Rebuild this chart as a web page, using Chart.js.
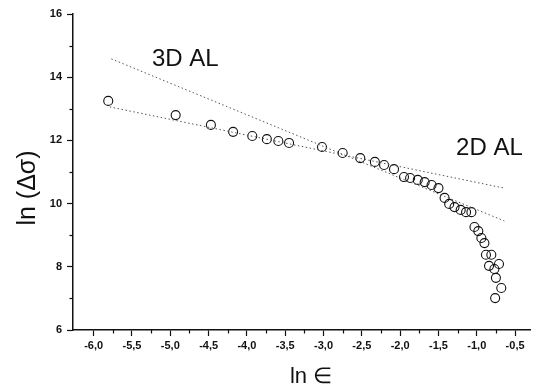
<!DOCTYPE html>
<html>
<head>
<meta charset="utf-8">
<script src="https://cdn.jsdelivr.net/npm/chart.js@4/dist/chart.umd.min.js"></script>
<style>
  html, body { margin: 0; padding: 0; background: #fff; }
  canvas { display: block; }
</style>
</head>
<body>
<canvas id="c" width="536" height="389"></canvas>
<script>
// ---- data ----
const lnEps = [-5.81,-4.93,-4.47,-4.18,-3.93,-3.74,-3.59,-3.45,-3.02,-2.75,-2.52,-2.33,-2.21,-2.08,-1.95,-1.87,-1.77,-1.68,-1.59,-1.50,-1.42,-1.36,-1.29,-1.21,-1.14,-1.07,-1.03,-0.98,-0.94,-0.90,-0.88,-0.81,-0.84,-0.77,-0.71,-0.75,-0.68,-0.76];
const lnDSigma = [13.25,12.80,12.49,12.27,12.14,12.04,11.98,11.92,11.79,11.60,11.44,11.32,11.22,11.09,10.84,10.81,10.75,10.68,10.59,10.49,10.18,9.99,9.89,9.80,9.73,9.73,9.26,9.13,8.91,8.75,8.38,8.38,8.03,7.93,8.09,7.65,7.33,7.01];
const fit3DX = [-5.77, -0.64];
const fit3DY = [14.58, 9.45];
const fit2DX = [-5.79, -0.64];
const fit2DY = [13.06, 10.49];
const xMajorTicks = [-6.0,-5.5,-5.0,-4.5,-4.0,-3.5,-3.0,-2.5,-2.0,-1.5,-1.0,-0.5];
const xMinorTicks = [-5.75,-5.25,-4.75,-4.25,-3.75,-3.25,-2.75,-2.25,-1.75,-1.25,-0.75];
const yMajorTicks = [6,8,10,12,14,16];
const yMinorTicks = [7,9,11,13,15];
const label3D = '3D AL';
const label2D = '2D AL';
const xTitle = 'ln \u2208';
const yTitle = 'ln (\u0394\u03c3)';

const FONT = '"Liberation Sans", Arial, sans-serif';
const toXY = (xs, ys) => xs.map((x, i) => ({x: x, y: ys[i]}));

const decorPlugin = {
  id: 'decor',
  afterDraw(chart) {
    const ctx = chart.ctx;
    const xs = chart.scales.x, ys = chart.scales.y;
    ctx.save();
    // minor ticks
    ctx.strokeStyle = '#111';
    ctx.lineWidth = 1.2;
    xMinorTicks.forEach(v => {
      const px = Math.round(xs.getPixelForValue(v)) + 0.5;
      ctx.beginPath(); ctx.moveTo(px, xs.top); ctx.lineTo(px, xs.top + 3.5); ctx.stroke();
    });
    yMinorTicks.forEach(v => {
      const py = Math.round(ys.getPixelForValue(v)) + 0.5;
      ctx.beginPath(); ctx.moveTo(ys.right, py); ctx.lineTo(ys.right - 3.5, py); ctx.stroke();
    });
    // annotations
    ctx.fillStyle = '#111';
    ctx.textBaseline = 'alphabetic';
    ctx.textAlign = 'left';
    ctx.font = '24px ' + FONT;
    ctx.fillText(label3D, xs.getPixelForValue(-5.24), ys.getPixelForValue(14.35));
    ctx.fillText(label2D, xs.getPixelForValue(-1.27), ys.getPixelForValue(11.53));
    // axis titles
    ctx.textAlign = 'center';
    ctx.font = '22px ' + FONT;
    ctx.fillText(xTitle, 311, 383);
    ctx.save();
    ctx.translate(35, 188);
    ctx.rotate(-Math.PI / 2);
    ctx.font = '25px ' + FONT;
    ctx.fillText(yTitle, 0, 0);
    ctx.restore();
    ctx.restore();
  }
};

new Chart(document.getElementById('c'), {
  type: 'scatter',
  data: {
    datasets: [
      {
        data: toXY(fit3DX, fit3DY),
        showLine: true,
        borderColor: '#555',
        borderWidth: 1,
        borderDash: [1.5, 2.5],
        pointRadius: 0,
        fill: false
      },
      {
        data: toXY(fit2DX, fit2DY),
        showLine: true,
        borderColor: '#555',
        borderWidth: 1,
        borderDash: [1.5, 2.5],
        pointRadius: 0,
        fill: false
      },
      {
        data: toXY(lnEps, lnDSigma),
        showLine: false,
        pointStyle: 'circle',
        pointRadius: 4.5,
        pointBorderWidth: 1.1,
        pointBorderColor: '#111',
        pointBackgroundColor: 'rgba(255,255,255,0)'
      }
    ]
  },
  options: {
    responsive: false,
    devicePixelRatio: 1,
    animation: false,
    layout: { padding: { top: 14, right: 1, left: 0, bottom: 0 } },
    plugins: { legend: { display: false }, tooltip: { enabled: false } },
    scales: {
      x: {
        type: 'linear',
        position: 'bottom',
        min: -6.27,
        max: -0.3,
        afterFit(s) { s.height = 59; },
        afterBuildTicks(s) { s.ticks = xMajorTicks.map(v => ({value: v})); },
        ticks: {
          callback: v => v.toFixed(1).replace('.', ','),
          font: { family: FONT, size: 11, weight: 'bold' },
          color: '#111',
          padding: 3,
          maxRotation: 0,
          autoSkip: false
        },
        grid: { drawOnChartArea: false, tickLength: 6, tickColor: '#111', tickWidth: 1.2 },
        border: { display: true, color: '#111', width: 1.5 }
      },
      y: {
        type: 'linear',
        position: 'left',
        min: 6,
        max: 16,
        afterFit(s) { s.width = 73; },
        afterBuildTicks(s) { s.ticks = yMajorTicks.map(v => ({value: v})); },
        ticks: {
          callback: v => String(v),
          font: { family: FONT, size: 11, weight: 'bold' },
          color: '#111',
          padding: 5,
          autoSkip: false
        },
        grid: { drawOnChartArea: false, tickLength: 6, tickColor: '#111', tickWidth: 1.2 },
        border: { display: true, color: '#111', width: 1.5 }
      }
    }
  },
  plugins: [decorPlugin]
});
</script>
</body>
</html>
